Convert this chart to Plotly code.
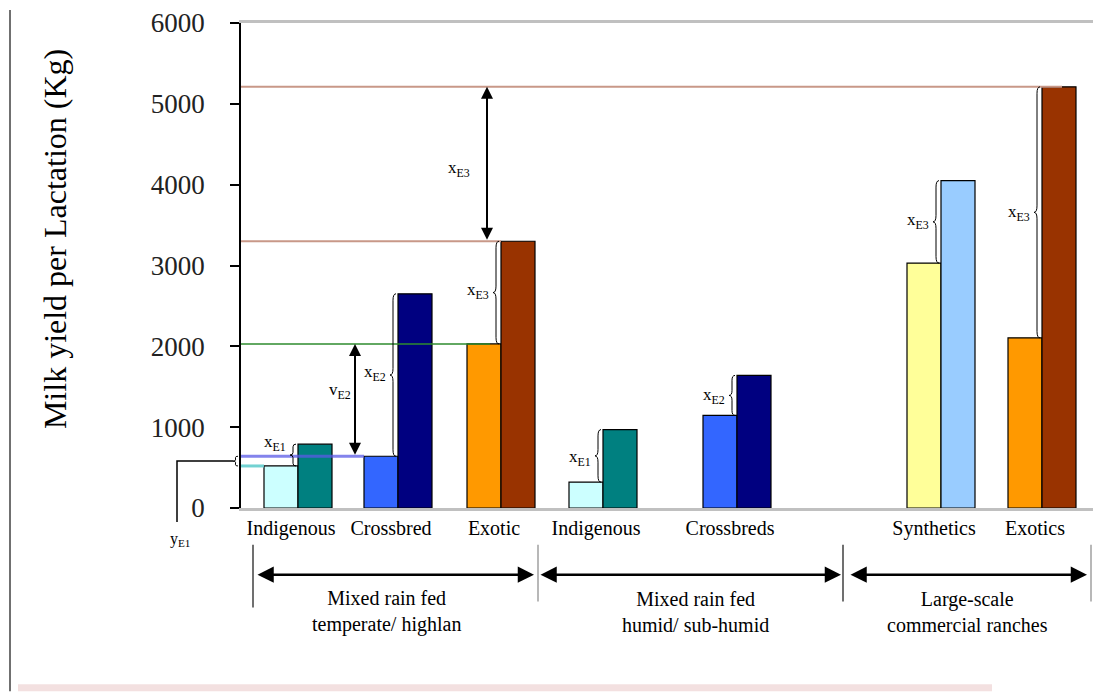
import plotly.graph_objects as go

# ---------------- data ----------------
categories = ["Indigenous", "Crossbred", "Exotic", "Indigenous", "Crossbreds", "Synthetics", "Exotics"]
yield_low = [520, 640, 2030, 320, 1145, 3030, 2105]
yield_high = [790, 2650, 3300, 970, 1640, 4050, 5210]
colors_low = ["#CCFFFF", "#3366FF", "#FF9900", "#CCFFFF", "#3366FF", "#FFFF99", "#FF9900"]
colors_high = ["#008080", "#000080", "#993300", "#008080", "#000080", "#99CCFF", "#993300"]
gap_labels = ["x<sub>E1</sub>", "x<sub>E2</sub>", "x<sub>E3</sub>", "x<sub>E1</sub>",
              "x<sub>E2</sub>", "x<sub>E3</sub>", "x<sub>E3</sub>"]
gap_label_y = [810, 1670, 2690, 615, 1390, 3550, 3650]
systems = ["Mixed rain fed<br>temperate/ highlan", "Mixed rain fed<br>humid/ sub-humid",
           "Large-scale<br>commercial ranches"]
y_ticks = [0, 1000, 2000, 3000, 4000, 5000, 6000]

# ---------------- layout helpers ----------------
positions = [0.57, 1.57, 2.60, 3.62, 4.96, 7.00, 8.01]
BW = 0.34
YMAX = 6000
OFF = 8                      # page body margin
L, T = 241, 21               # plot-area corner in window pixels
PW, PH = 860, 487
W, H = 1101 - OFF, 692 - OFF
SERIF = "Liberation Serif, Times New Roman, serif"


def px(xp):
    return (xp - L) / PW


def py(yp):
    return (T + PH - yp) / PH


fig = go.Figure()
fig.add_trace(go.Bar(x=positions, y=yield_low, offset=-BW, width=BW,
                     marker=dict(color=colors_low, line=dict(color="black", width=1.2)),
                     showlegend=False, hoverinfo="y"))
fig.add_trace(go.Bar(x=positions, y=yield_high, offset=0, width=BW,
                     marker=dict(color=colors_high, line=dict(color="black", width=1.2)),
                     showlegend=False, hoverinfo="y"))

shapes = []
annotations = []

# reference lines
ref_lines = [
    (yield_high[6], positions[6] + 0.2, "#C89888", 2),
    (yield_high[2], positions[2], "#C89888", 2),
    (yield_low[2], positions[2] - 0.11, "#2E8B2E", 1.5),
    (yield_low[1], positions[1] - BW, "rgba(90,90,230,0.75)", 3),
    (yield_low[0], positions[0] - BW, "rgba(100,205,205,0.9)", 3),
]
for yv, xe, col, lw in ref_lines:
    shapes.append(dict(type="line", xref="x", yref="y", x0=0, x1=xe, y0=yv, y1=yv,
                       line=dict(color=col, width=lw), layer="above"))


def brace_path(xr, y0, y1, w):
    xm = xr - w / 2
    xt = xr - w
    ym = (y0 + y1) / 2
    d = min((y1 - y0) * 0.12, 80)
    return (f"M {xr},{y0} Q {xm},{y0} {xm},{y0 + d} L {xm},{ym - d} "
            f"Q {xm},{ym} {xt},{ym} Q {xm},{ym} {xm},{ym + d} L {xm},{y1 - d} "
            f"Q {xm},{y1} {xr},{y1}")


# braces + labels
for i, p in enumerate(positions):
    shapes.append(dict(type="path", xref="x", yref="y",
                       path=brace_path(p - 0.02, yield_low[i], yield_high[i], 0.06),
                       line=dict(color="black", width=1), layer="above"))
    annotations.append(dict(x=p - 0.23, y=gap_label_y[i], xref="x", yref="y",
                            text=gap_labels[i], showarrow=False,
                            xanchor="center", yanchor="middle",
                            font=dict(family=SERIF, size=17, color="black")))

# vertical double arrows
for xa, ylo, yhi in [(2.46, yield_high[2], yield_high[6]), (1.14, yield_low[1], yield_low[2])]:
    annotations.append(dict(x=xa, y=yhi, ax=xa, ay=ylo, xref="x", yref="y", axref="x", ayref="y",
                            text="", showarrow=True, arrowhead=2, startarrowhead=2,
                            arrowside="end+start", arrowsize=1.2, startarrowsize=1.2,
                            arrowwidth=2, arrowcolor="black", standoff=0, startstandoff=0))
annotations.append(dict(x=2.18, y=4200, xref="x", yref="y", text="x<sub>E3</sub>",
                        showarrow=False, xanchor="center", yanchor="middle",
                        font=dict(family=SERIF, size=17, color="black")))
annotations.append(dict(x=0.99, y=1450, xref="x", yref="y", text="v<sub>E2</sub>",
                        showarrow=False, xanchor="center", yanchor="middle",
                        font=dict(family=SERIF, size=17, color="black")))

# y_E1 marker (outside plot, paper coords)
fy0, fy1 = yield_low[0] / YMAX, yield_low[1] / YMAX
fym = (fy0 + fy1) / 2
shapes.append(dict(type="path", xref="paper", yref="paper",
                   path=brace_path(px(238), fy0, fy1, px(238) - px(233)),
                   line=dict(color="black", width=1)))
shapes.append(dict(type="path", xref="paper", yref="paper",
                   path=f"M {px(233)},{fym} L {px(177)},{fym} L {px(177)},{py(522)}",
                   line=dict(color="black", width=1.5)))
annotations.append(dict(x=px(180), y=py(540), xref="paper", yref="paper", text="y<sub>E1</sub>",
                        showarrow=False, xanchor="center", yanchor="middle",
                        font=dict(family=SERIF, size=16, color="black")))

# bottom system arrows + separators
for x_head, x_tail in [(534, 256), (841, 539), (1087, 849)]:
    annotations.append(dict(x=px(x_head), y=py(575), xref="paper", yref="paper",
                            ax=-(x_head - x_tail), ay=0, axref="pixel", ayref="pixel",
                            text="", showarrow=True, arrowhead=2, startarrowhead=2,
                            arrowside="end+start", arrowsize=1.3, startarrowsize=1.3,
                            arrowwidth=2.5, arrowcolor="black", standoff=0, startstandoff=0))
for xs, ye, col in [(253, 608, "#404040"), (538, 602, "#A0A0A0"), (843, 602, "#404040"), (1091, 602, "#A0A0A0")]:
    shapes.append(dict(type="line", xref="paper", yref="paper", x0=px(xs), x1=px(xs),
                       y0=py(545), y1=py(ye), line=dict(color=col, width=1.5)))
for xc, txt in zip([386, 695, 967], systems):
    annotations.append(dict(x=px(xc), y=py(612), xref="paper", yref="paper", text=txt,
                            showarrow=False, align="center", xanchor="center", yanchor="middle",
                            font=dict(family=SERIF, size=20, color="black")))

# frame decorations
shapes.append(dict(type="line", xref="paper", yref="paper", x0=px(10), x1=px(10),
                   y0=py(OFF), y1=py(692), line=dict(color="#707070", width=2)))
shapes.append(dict(type="rect", xref="paper", yref="paper", x0=px(18), x1=px(992),
                   y0=py(685), y1=py(692), fillcolor="#F3E0E0", line=dict(width=0)))

# y title
annotations.append(dict(x=px(55), y=py(238), xref="paper", yref="paper",
                        text="Milk yield per Lactation (Kg)", textangle=-90, showarrow=False,
                        xanchor="center", yanchor="middle",
                        font=dict(family=SERIF, size=32, color="black")))

fig.update_layout(
    width=W, height=H,
    margin=dict(l=L - OFF, r=W - (L - OFF) - PW, t=T - OFF, b=H - (T - OFF) - PH),
    paper_bgcolor="white", plot_bgcolor="white",
    barmode="overlay",
    shapes=shapes, annotations=annotations,
    xaxis=dict(range=[0, 8.6], tickvals=[p - 0.07 for p in positions], ticktext=categories,
               showgrid=False, zeroline=False, ticks="", showline=True,
               linecolor="#C0C0C0", linewidth=3, mirror=True,
               tickfont=dict(family=SERIF, size=20, color="black")),
    yaxis=dict(range=[0, YMAX], tickvals=y_ticks, showgrid=False, zeroline=False,
               showline=True, linecolor="black", linewidth=1.5,
               ticks="outside", ticklen=9, tickwidth=1.5, tickcolor="black",
               ticklabelstandoff=20, ticklabeloverflow="allow",
               tickfont=dict(family=SERIF, size=27, color="#222222")),
)

fig.write_html("out.html")
